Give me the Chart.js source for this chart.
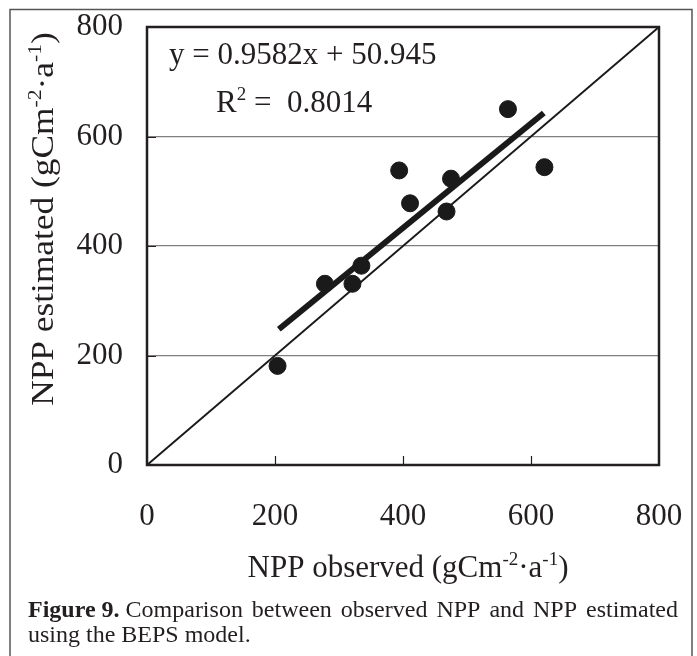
<!DOCTYPE html>
<html>
<head>
<meta charset="utf-8">
<script src="https://cdn.jsdelivr.net/npm/chart.js@4.4.1/dist/chart.umd.min.js"></script>
<style>
  html, body { margin: 0; padding: 0; background: #fff; }
  #c { display: block; }
</style>
</head>
<body>
<canvas id="c" width="697" height="656"></canvas>
<script>
'use strict';

// observed vs estimated NPP (gC m-2 a-1)
const observed = [204, 278, 321, 335, 394, 411, 468, 475, 564, 621];
const estimated = [181, 331, 331, 364, 538, 478, 463, 523, 650, 544];

// 1:1 reference line and fitted line end points
const oneToOneX = [0, 800];
const oneToOneY = [0, 800];
const fitX = [206, 620];
const fitY = [248, 643];

const axisTicks = [0, 200, 400, 600, 800];

const eqText = 'y = 0.9582x + 50.945';
const r2Text = ['R', '2', ' =  0.8014'];
const xTitle = ['NPP observed (gCm', '-2', '·a', '-1', ')'];
const yTitle = ['NPP estimated (gCm', '-2', '·a', '-1', ')'];
const captionBold = 'Figure 9.';
const captionLine1 = 'Comparison between observed NPP and NPP estimated';
const captionLine2 = 'using the BEPS model.';

const SERIF = '"Liberation Serif", "Times New Roman", serif';
const INK = '#231f20';

const toPoints = (xs, ys) => xs.map((x, i) => ({ x: x, y: ys[i] }));

// parts alternate normal / superscript
function richWidth(ctx, parts, size) {
    let w = 0;
    parts.forEach((p, i) => {
        ctx.font = (i % 2 ? Math.round(size * 0.62) : size) + 'px ' + SERIF;
        w += ctx.measureText(p).width;
    });
    return w;
}

function drawRich(ctx, parts, x, y, size) {
    let cx = x;
    parts.forEach((p, i) => {
        const sup = i % 2 === 1;
        ctx.font = (sup ? Math.round(size * 0.62) : size) + 'px ' + SERIF;
        ctx.fillText(p, cx, sup ? y - size * 0.4 : y);
        cx += ctx.measureText(p).width;
    });
}

function drawJustified(ctx, words, x, y, width) {
    const widths = words.map(w => ctx.measureText(w).width);
    const total = widths.reduce((a, b) => a + b, 0);
    const gap = (width - total) / (words.length - 1);
    let cx = x;
    words.forEach((w, i) => {
        ctx.fillText(w, cx, y);
        cx += widths[i] + gap;
    });
}

function noScalePadding(s) {
    s.paddingLeft = 0;
    s.paddingRight = 0;
    s.paddingTop = 0;
    s.paddingBottom = 0;
}

const framePlugin = {
    id: 'frame',
    beforeDraw(chart) {
        const ctx = chart.ctx;
        ctx.save();
        ctx.fillStyle = '#fff';
        ctx.fillRect(0, 0, chart.width, chart.height);
        ctx.strokeStyle = '#555';
        ctx.lineWidth = 1.5;
        ctx.beginPath();
        ctx.moveTo(10, 660);
        ctx.lineTo(10, 9.5);
        ctx.lineTo(692, 9.5);
        ctx.lineTo(692, 660);
        ctx.stroke();
        ctx.restore();
    },
    afterDraw(chart) {
        const ctx = chart.ctx;
        const area = chart.chartArea;
        const xs = chart.scales.x;
        const ys = chart.scales.y;
        ctx.save();

        // inward tick marks
        ctx.strokeStyle = INK;
        ctx.lineWidth = 1.2;
        ctx.beginPath();
        axisTicks.slice(1, -1).forEach(v => {
            const px = Math.round(xs.getPixelForValue(v)) + 0.5;
            ctx.moveTo(px, area.bottom);
            ctx.lineTo(px, area.bottom - 9);
            const py = Math.round(ys.getPixelForValue(v)) + 0.5;
            ctx.moveTo(area.left, py);
            ctx.lineTo(area.left + 9, py);
        });
        ctx.stroke();

        // plot box
        ctx.lineWidth = 2.5;
        ctx.strokeRect(area.left, area.top, area.right - area.left, area.bottom - area.top);

        ctx.fillStyle = INK;
        ctx.textBaseline = 'alphabetic';
        ctx.textAlign = 'left';

        // regression annotation
        ctx.font = '31px ' + SERIF;
        ctx.fillText(eqText, 169, 64);
        drawRich(ctx, r2Text, 216, 112, 31);

        // axis titles
        const xw = richWidth(ctx, xTitle, 31);
        drawRich(ctx, xTitle, 408 - xw / 2, 577, 31);

        ctx.save();
        ctx.translate(53, 219);
        ctx.rotate(-Math.PI / 2);
        ctx.scale(1.14, 1);
        const yw = richWidth(ctx, yTitle, 31);
        drawRich(ctx, yTitle, -yw / 2, 0, 31);
        ctx.restore();

        // caption
        ctx.font = 'bold 24px ' + SERIF;
        ctx.fillText(captionBold, 28, 617);
        const bw = ctx.measureText(captionBold).width;
        ctx.font = '24px ' + SERIF;
        const start = 28 + bw + ctx.measureText(' ').width;
        drawJustified(ctx, captionLine1.split(' '), start, 617, 678 - start);
        ctx.fillText(captionLine2, 28, 642);

        ctx.restore();
    }
};

new Chart(document.getElementById('c'), {
    type: 'scatter',
    data: {
        datasets: [
            {
                label: 'NPP',
                data: toPoints(observed, estimated),
                backgroundColor: '#1a1a1a',
                borderColor: '#1a1a1a',
                pointRadius: 8.5,
                pointHoverRadius: 8.5,
                order: 1
            },
            {
                label: '1:1',
                data: toPoints(oneToOneX, oneToOneY),
                showLine: true,
                borderColor: '#1a1a1a',
                borderWidth: 2,
                pointRadius: 0,
                order: 2
            },
            {
                label: 'fit',
                data: toPoints(fitX, fitY),
                showLine: true,
                borderColor: '#1a1a1a',
                borderWidth: 6,
                borderCapStyle: 'butt',
                pointRadius: 0,
                order: 0
            }
        ]
    },
    options: {
        responsive: false,
        animation: false,
        devicePixelRatio: 1,
        layout: { padding: { top: 27, right: 38, left: 0, bottom: 0 } },
        plugins: {
            legend: { display: false },
            tooltip: { enabled: false }
        },
        scales: {
            x: {
                type: 'linear',
                min: 0,
                max: 800,
                afterFit: s => { s.height = 191; noScalePadding(s); },
                afterBuildTicks: s => { s.ticks = axisTicks.map(v => ({ value: v })); },
                grid: { display: false, drawTicks: false },
                border: { display: false },
                ticks: {
                    padding: 33,
                    color: INK,
                    font: { family: SERIF, size: 31 }
                }
            },
            y: {
                type: 'linear',
                min: 0,
                max: 800,
                afterFit: s => { s.width = 147; noScalePadding(s); },
                afterBuildTicks: s => { s.ticks = axisTicks.map(v => ({ value: v })); },
                grid: { color: '#808080', lineWidth: 1.2, drawTicks: false },
                border: { display: false },
                ticks: {
                    padding: 24,
                    color: INK,
                    font: { family: SERIF, size: 31 }
                }
            }
        }
    },
    plugins: [framePlugin]
});
</script>
</body>
</html>
